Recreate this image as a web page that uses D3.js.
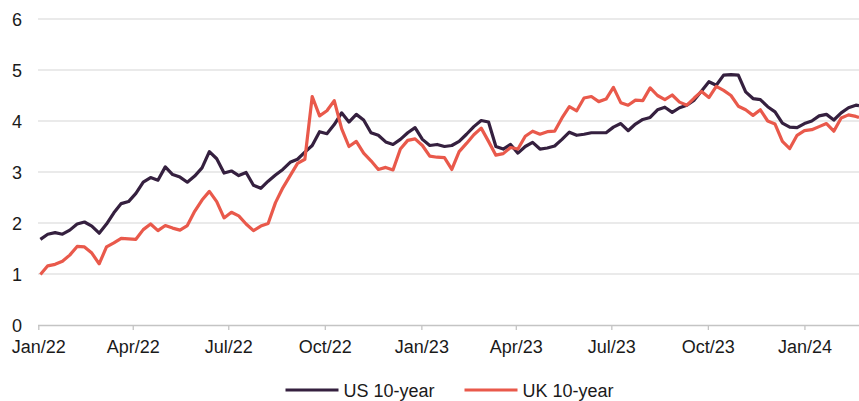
<!DOCTYPE html>
<html>
<head>
<meta charset="utf-8">
<script src="https://cdn.jsdelivr.net/npm/d3@7"></script>
<style>
	body { margin: 0; background: #fff; }
	svg { display: block; font-family: "Liberation Sans", Arial, sans-serif; }
</style>
</head>
<body>
<div id="chart"></div>
<script>
"use strict";

// weekly readings, first Monday of 2022 onward (last point 22 Feb 2024)
var startDate = "2022-01-03";
var endDate = "2024-02-22";

var usYield = [
	1.68, 1.78, 1.81, 1.78, 1.86, 1.98, 2.02, 1.94, 1.80, 1.98,
	2.20, 2.38, 2.42, 2.58, 2.80, 2.89, 2.84, 3.10, 2.95, 2.90,
	2.80, 2.92, 3.08, 3.40, 3.26, 2.98, 3.02, 2.93, 2.99, 2.74,
	2.68, 2.82, 2.94, 3.05, 3.19, 3.25, 3.39, 3.52, 3.79, 3.75,
	3.93, 4.16, 3.98, 4.13, 4.02, 3.77, 3.72, 3.59, 3.54, 3.64,
	3.77, 3.87, 3.64, 3.52, 3.54, 3.50, 3.52, 3.60, 3.74, 3.89,
	4.01, 3.98, 3.50, 3.45, 3.54, 3.37, 3.50, 3.58, 3.45, 3.47,
	3.51, 3.64, 3.78, 3.72, 3.74, 3.77, 3.77, 3.77, 3.88, 3.95,
	3.81, 3.94, 4.03, 4.07, 4.22, 4.27, 4.17, 4.26, 4.31, 4.41,
	4.59, 4.77, 4.70, 4.90, 4.91, 4.90, 4.57, 4.44, 4.42, 4.28,
	4.18, 3.96, 3.88, 3.87, 3.95, 4.00, 4.10, 4.13, 4.02, 4.16,
	4.26, 4.31, 4.30
];

var ukYield = [
	0.99, 1.16, 1.19, 1.25, 1.37, 1.54, 1.53, 1.41, 1.20, 1.53,
	1.61, 1.70, 1.69, 1.68, 1.87, 1.98, 1.85, 1.95, 1.90, 1.86,
	1.95, 2.23, 2.45, 2.62, 2.42, 2.10, 2.21, 2.14, 1.98, 1.85,
	1.94, 1.99, 2.40, 2.69, 2.93, 3.17, 3.25, 4.48, 4.10, 4.20,
	4.40, 3.85, 3.50, 3.60, 3.37, 3.22, 3.05, 3.09, 3.04, 3.45,
	3.62, 3.65, 3.52, 3.31, 3.29, 3.28, 3.05, 3.40, 3.56, 3.73,
	3.86, 3.60, 3.33, 3.36, 3.48, 3.45, 3.70, 3.80, 3.74, 3.79,
	3.80, 4.06, 4.28, 4.20, 4.45, 4.48, 4.38, 4.43, 4.66, 4.36,
	4.31, 4.41, 4.40, 4.65, 4.50, 4.42, 4.51, 4.37, 4.31, 4.45,
	4.58, 4.46, 4.68, 4.60, 4.50, 4.29, 4.22, 4.11, 4.22, 4.00,
	3.94, 3.60, 3.46, 3.72, 3.81, 3.83, 3.89, 3.95, 3.80, 4.06,
	4.12, 4.09, 4.07
];

var yTicks = [0, 1, 2, 3, 4, 5, 6];
var seriesNames = ["US 10-year", "UK 10-year"];
var seriesColors = ["#35203f", "#e9594b"];

var width = 859;
var height = 401;

var parseDate = d3.timeParse("%Y-%m-%d");

// build the date list: one per week, last one is the end date
var dates = [];
var d = parseDate(startDate);
for (var i = 0; i < usYield.length - 1; i++) {
	dates.push(d3.timeDay.offset(d, 7 * i));
}
dates.push(parseDate(endDate));

var svg = d3.select("#chart").append("svg")
	.attr("width", width)
	.attr("height", height);

var x = d3.scaleTime()
	.domain([parseDate("2022-01-01"), parseDate(endDate)])
	.range([38.3, 859]);

var y = d3.scaleLinear()
	.domain([0, 6])
	.range([325, 19]);

// gridlines
svg.append("g")
	.selectAll("line")
	.data(yTicks.filter(function(t) { return t > 0; }))
	.enter().append("line")
	.attr("x1", 38)
	.attr("x2", width)
	.attr("y1", function(t) { return y(t); })
	.attr("y2", function(t) { return y(t); })
	.style("stroke", "#e3e3e3")
	.style("stroke-width", 1.3);

// y labels
svg.append("g")
	.selectAll("text")
	.data(yTicks)
	.enter().append("text")
	.attr("x", 22)
	.attr("y", function(t) { return y(t) + 6.5; })
	.style("text-anchor", "end")
	.style("font-size", "18px")
	.style("fill", "#1a1a1a")
	.text(function(t) { return t; });

// x axis
var xAxis = d3.axisBottom(x)
	.ticks(d3.timeMonth.every(3))
	.tickFormat(d3.timeFormat("%b/%y"))
	.tickSize(5)
	.tickSizeOuter(0);

var gx = svg.append("g")
	.attr("transform", "translate(0,325)")
	.call(xAxis);

gx.select(".domain")
	.attr("d", "M38," + 0.5 + "H" + width)
	.style("stroke", "#c4c4c4")
	.style("stroke-width", 1.5);
gx.selectAll(".tick line")
	.style("stroke", "#c4c4c4")
	.style("stroke-width", 1.3);
gx.selectAll(".tick text")
	.attr("y", 15)
	.style("font-size", "18px")
	.style("font-family", "'Liberation Sans', Arial, sans-serif")
	.style("fill", "#1a1a1a");

// lines, UK drawn last so it sits on top
var line = d3.line()
	.x(function(v, i) { return x(dates[i]); })
	.y(function(v) { return y(v); });

svg.append("clipPath").attr("id", "plotclip")
	.append("rect")
	.attr("x", 38).attr("y", 0)
	.attr("width", width - 38).attr("height", 330);

svg.append("g")
	.attr("clip-path", "url(#plotclip)")
	.selectAll("path")
	.data([usYield, ukYield])
	.enter().append("path")
	.attr("d", line)
	.style("fill", "none")
	.style("stroke", function(v, i) { return seriesColors[i]; })
	.style("stroke-width", 3.2)
	.style("stroke-linejoin", "round");

// legend
var legendX = [285.5, 464.5];
var legend = svg.append("g");
seriesNames.forEach(function(name, i) {
	legend.append("line")
		.attr("x1", legendX[i])
		.attr("x2", legendX[i] + 53)
		.attr("y1", 390)
		.attr("y2", 390)
		.style("stroke", seriesColors[i])
		.style("stroke-width", 3);
	legend.append("text")
		.attr("x", legendX[i] + 58)
		.attr("y", 396.5)
		.style("font-size", "18px")
		.style("fill", "#1a1a1a")
		.text(name);
});
</script>
</body>
</html>
